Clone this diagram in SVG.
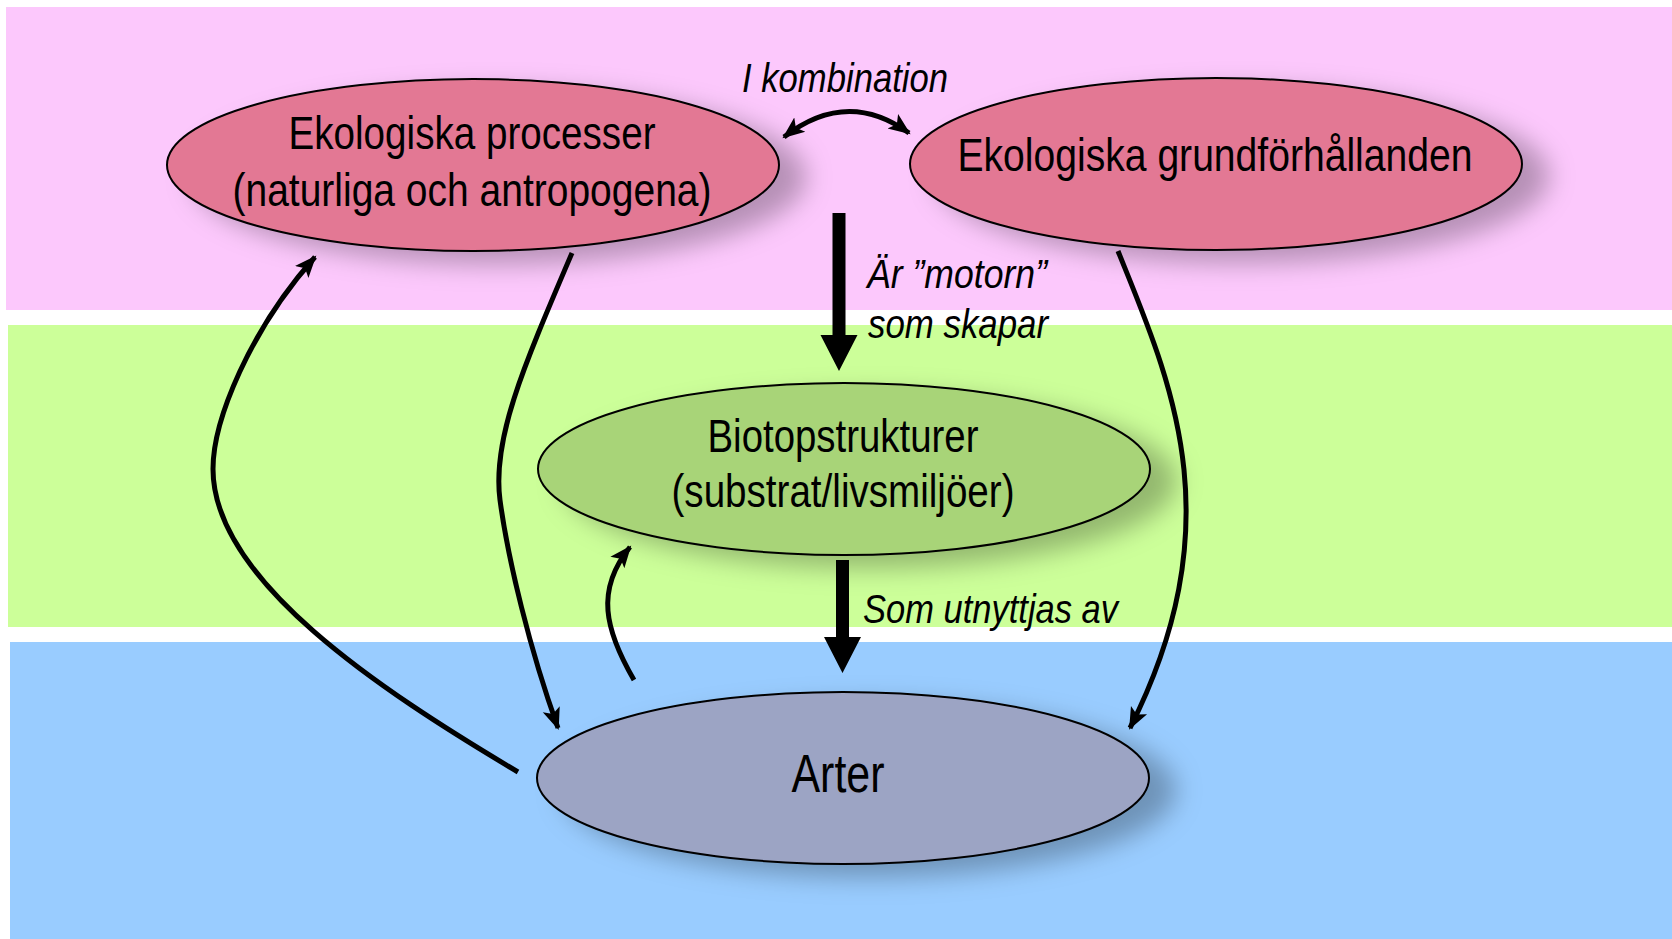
<svg xmlns="http://www.w3.org/2000/svg" width="1672" height="939" viewBox="0 0 1672 939">
<style>
.main{font-family:"Liberation Sans Narrow","Liberation Sans",Arial,sans-serif;font-size:47px;fill:#000;text-anchor:middle}
.lbl{font-family:"Liberation Sans Narrow","Liberation Sans",Arial,sans-serif;font-size:40px;font-style:italic;fill:#000}
.node{stroke:#000;stroke-width:2;filter:url(#sh)}
.cur{fill:none;stroke:#000;stroke-width:5}
</style>
<defs>
<filter id="sh" x="-20%" y="-30%" width="150%" height="180%">
<feDropShadow dx="26" dy="12" stdDeviation="13" flood-color="#000" flood-opacity="0.28"/>
</filter>
<marker id="ah" markerUnits="userSpaceOnUse" markerWidth="24" markerHeight="20" viewBox="0 0 24 20" refX="20" refY="10" orient="auto-start-reverse">
<path d="M0,1 L22,10 L0,19 L5,10 z" fill="#000"/>
</marker>
</defs>
<g id="bands">
<rect x="6" y="7" width="1666" height="303" fill="#FCC8FC"/>
<rect x="8" y="325" width="1664" height="302" fill="#CCFF99"/>
<rect x="10" y="642" width="1662" height="297" fill="#99CCFF"/>
</g>
<g id="node-processer">
<ellipse class="node" cx="473" cy="165" rx="306" ry="86" fill="#E37894"/>
<text class="main" x="472" y="149" textLength="367" lengthAdjust="spacingAndGlyphs">Ekologiska processer</text>
<text class="main" x="472" y="206" textLength="479" lengthAdjust="spacingAndGlyphs">(naturliga och antropogena)</text>
</g>
<g id="node-grund">
<ellipse class="node" cx="1216" cy="164" rx="306" ry="86" fill="#E37894"/>
<text class="main" x="1215" y="171" textLength="515" lengthAdjust="spacingAndGlyphs">Ekologiska grundförhållanden</text>
</g>
<g id="node-biotop">
<ellipse class="node" cx="844" cy="469" rx="306" ry="86" fill="#A8D478"/>
<text class="main" x="843" y="452" textLength="271" lengthAdjust="spacingAndGlyphs">Biotopstrukturer</text>
<text class="main" x="843" y="507" textLength="343" lengthAdjust="spacingAndGlyphs">(substrat/livsmiljöer)</text>
</g>
<g id="node-arter">
<ellipse class="node" cx="843" cy="778" rx="306" ry="86" fill="#9CA4C4"/>
<text class="main" x="838" y="792" style="font-size:53px" textLength="93" lengthAdjust="spacingAndGlyphs">Arter</text>
</g>
<g id="connectors">
<path class="cur" d="M784,137 Q847,88 909,133" marker-start="url(#ah)" marker-end="url(#ah)"/>
<polygon points="832.5,213 845.5,213 845.5,335 857.5,335 839,371 820.5,335 832.5,335" fill="#000"/>
<polygon points="836,560 849,560 849,637 861,637 842.5,673 824,637 836,637" fill="#000"/>
<path class="cur" d="M572,253 C522,370 492,440 500,500 S530,650 558,728" marker-end="url(#ah)"/>
<path class="cur" d="M1118,251 C1170,380 1235,520 1130,728" marker-end="url(#ah)"/>
<path class="cur" d="M518,772 C380,690 213,580 213,469 C213,420 250,330 315,257" marker-end="url(#ah)"/>
<path class="cur" d="M634,680 C605,630 595,590 630,547" marker-end="url(#ah)"/>
</g>
<g id="labels">
<text class="lbl" x="742" y="92" textLength="206" lengthAdjust="spacingAndGlyphs">I kombination</text>
<text class="lbl" x="867" y="288" textLength="180" lengthAdjust="spacingAndGlyphs">Är ”motorn”</text>
<text class="lbl" x="868" y="338" textLength="180" lengthAdjust="spacingAndGlyphs">som skapar</text>
<text class="lbl" x="863" y="623" textLength="255" lengthAdjust="spacingAndGlyphs">Som utnyttjas av</text>
</g>
</svg>
